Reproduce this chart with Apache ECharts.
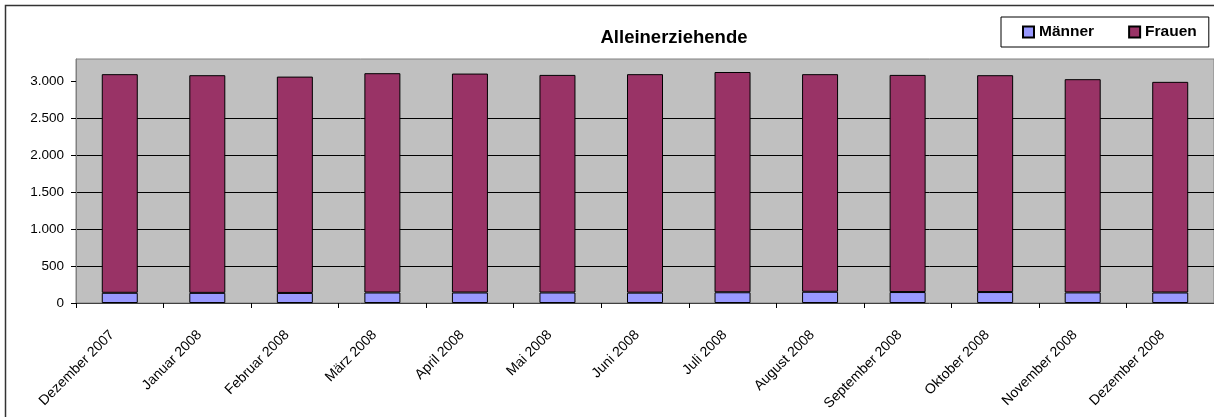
<!DOCTYPE html>
<html>
<head>
<meta charset="utf-8">
<script src="https://cdn.jsdelivr.net/npm/echarts@6/dist/echarts.min.js"></script>
<style>
  html, body { margin: 0; padding: 0; background: #fff; }
  #chart { width: 1214px; height: 417px; }
</style>
</head>
<body>
<div id="chart"></div>
<script>
// Monate
var months = ['Dezember 2007', 'Januar 2008', 'Februar 2008', 'März 2008', 'April 2008', 'Mai 2008',
  'Juni 2008', 'Juli 2008', 'August 2008', 'September 2008', 'Oktober 2008', 'November 2008', 'Dezember 2008'];
// Männer (unterer Teil)
var maenner = [138, 137, 136, 142, 142, 142, 140, 145, 152, 148, 148, 143, 142];
// Frauen (oberer Teil)
var frauen = [2957, 2944, 2926, 2966, 2961, 2943, 2955, 2979, 2943, 2937, 2933, 2884, 2849];
var yTicks = [0, 500, 1000, 1500, 2000, 2500, 3000];

var fontName = '"Liberation Sans", Arial, sans-serif';

function fmt(v) {
  // deutsche Tausenderpunkte
  return String(v).replace(/\B(?=(\d{3})+(?!\d))/g, '.');
}

var myChart = echarts.init(document.getElementById('chart'), null, { renderer: 'canvas' });
var option = {
  animation: false,
  backgroundColor: '#fff',
  textStyle: { fontFamily: fontName },
  title: {
    text: 'Alleinerziehende',
    left: 669,
    top: 23,
    textAlign: 'center',
    textStyle: { fontFamily: fontName, fontSize: 18.5, fontWeight: 'bold', color: '#000' }
  },
  legend: {
    left: 1001,
    top: 17,
    padding: [7, 12, 7, 21],
    borderColor: '#000',
    borderWidth: 1,
    backgroundColor: '#fff',
    itemWidth: 11,
    itemHeight: 11,
    itemGap: 34,
    icon: 'rect',
    data: ['Männer', 'Frauen'],
    textStyle: { fontFamily: fontName, fontSize: 15.5, fontWeight: 'bold', color: '#000' }
  },
  graphic: [{
    type: 'rect',
    silent: true,
    z: -1,
    shape: { x: 5.5, y: 5.5, width: 1400, height: 600 },
    style: { fill: 'none', stroke: '#333', lineWidth: 1.5 }
  }],
  grid: {
    left: 76,
    top: 59,
    width: 1142,
    height: 244,
    show: true,
    backgroundColor: '#C0C0C0',
    borderColor: '#808080',
    borderWidth: 1
  },
  xAxis: {
    type: 'category',
    data: months,
    axisLine: { lineStyle: { color: '#404040', width: 1 } },
    axisTick: { show: true, length: 5, lineStyle: { color: '#000' } },
    axisLabel: {
      rotate: 45,
      interval: 0,
      margin: 22,
      padding: [0, 11, 0, 0],
      fontFamily: fontName,
      fontSize: 14,
      color: '#000'
    }
  },
  yAxis: {
    type: 'value',
    min: 0,
    max: 3300,
    interval: 500,
    axisLine: { show: true, lineStyle: { color: '#808080' } },
    axisTick: { show: true, length: 5, customValues: yTicks, lineStyle: { color: '#000' } },
    axisLabel: {
      customValues: yTicks,
      margin: 12,
      fontFamily: fontName,
      fontSize: 13.5,
      color: '#000',
      formatter: function(v) { return fmt(v); }
    },
    splitLine: { show: true, showMaxLine: false, showMinLine: false, lineStyle: { color: '#000', width: 1 } }
  },
  series: [{
      name: 'Männer',
      type: 'bar',
      stack: 'gesamt',
      barWidth: 36,
      data: maenner,
      itemStyle: { color: '#9999FF', borderColor: '#000', borderWidth: 1 }
    },
    {
      name: 'Frauen',
      type: 'bar',
      stack: 'gesamt',
      barWidth: 36,
      data: frauen,
      itemStyle: { color: '#993366', borderColor: '#000', borderWidth: 1 }
    }
  ]
};
myChart.setOption(option);
</script>
</body>
</html>
